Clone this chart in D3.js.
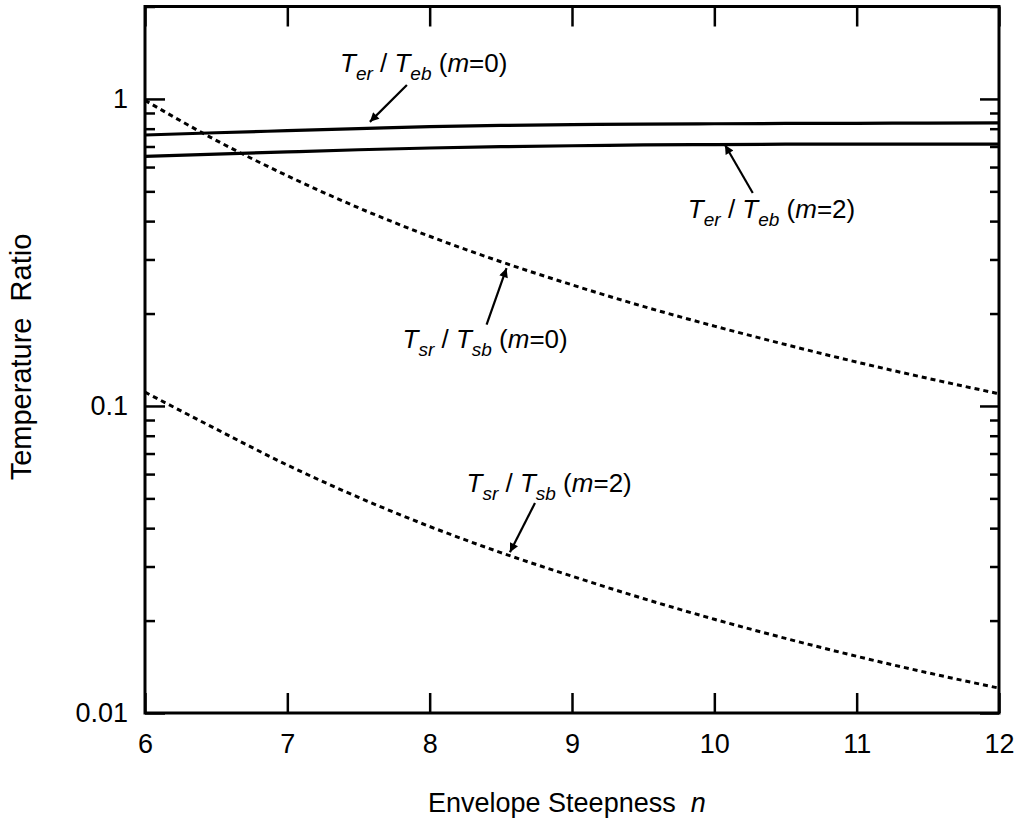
<!DOCTYPE html>
<html>
<head>
<meta charset="utf-8">
<script src="https://cdn.jsdelivr.net/npm/d3@7"></script>
<style>
  html, body { margin: 0; padding: 0; background: #fff; }
  svg { display: block; }
  text { font-family: "Liberation Sans", Arial, Helvetica, sans-serif; fill: #000; }
</style>
</head>
<body>
<svg id="chart" width="1022" height="824"></svg>
<script>
// ---- data ----
const nValues = [6, 6.5, 7, 7.5, 8, 8.5, 9, 9.5, 10, 10.5, 11, 11.5, 12];
const terTebM0 = [0.763, 0.776, 0.788, 0.800, 0.812, 0.820, 0.825, 0.828, 0.830, 0.832, 0.833, 0.834, 0.835];
const terTebM2 = [0.650, 0.661, 0.672, 0.683, 0.692, 0.699, 0.704, 0.708, 0.710, 0.712, 0.713, 0.713, 0.713];
const tsrTsbM0 = [0.989, 0.733, 0.562, 0.442, 0.357, 0.295, 0.248, 0.211, 0.182, 0.1585, 0.139, 0.123, 0.1096];
const tsrTsbM2 = [0.1109, 0.0841, 0.0642, 0.0504, 0.0405, 0.0333, 0.0279, 0.0236, 0.0202, 0.0175, 0.0153, 0.01352, 0.01205];

const xTicks = [6, 7, 8, 9, 10, 11, 12];
const yMajorTicks = [0.01, 0.1, 1];
const yMinorTicks = [0.02,0.03,0.04,0.05,0.06,0.07,0.08,0.09,0.2,0.3,0.4,0.5,0.6,0.7,0.8,0.9,2];
const yTickLabels = ["0.01", "0.1", "1"];

const xTitle = "Envelope Steepness";
const xTitleVar = "n";
const yTitle = "Temperature\u00a0\u00a0Ratio";

// annotations in data space: label anchor, arrow tail, arrow tip
const annNames = [
  {sub1: "er", sub2: "eb", m: "0"},
  {sub1: "er", sub2: "eb", m: "2"},
  {sub1: "sr", sub2: "sb", m: "0"},
  {sub1: "sr", sub2: "sb", m: "2"}
];
const annLabelAt = [[7.37, 1.224, "start"], [10.99, 0.409, "end"], [8.97, 0.1545, "end"], [9.42, 0.0525, "end"]];
const annTail = [[7.84, 1.11], [10.27, 0.494], [8.40, 0.184], [8.74, 0.0483]];
const annTip = [[7.58, 0.842], [10.075, 0.708], [8.54, 0.281], [8.564, 0.0334]];

// ---- layout ----
const L = 145, R = 999, T = 6.5, B = 713;
const svg = d3.select("#chart");
svg.append("rect").attr("width", 1022).attr("height", 824).attr("fill", "#fff");

const x = d3.scaleLinear().domain([6, 12]).range([L, R]);
const y = d3.scaleLog().domain([0.01, 2]).range([B, T]);

function styleAxis(g) {
  g.select(".domain").remove();
  g.selectAll(".tick line").attr("stroke", "#000").attr("stroke-width", 2.5);
  g.selectAll(".tick text").attr("font-size", 27).attr("fill", "#000")
    .attr("font-family", '"Liberation Sans", Arial, Helvetica, sans-serif');
}

// bottom
svg.append("g").attr("transform", `translate(0,${B})`)
  .call(d3.axisBottom(x).tickValues(xTicks).tickSize(-20).tickPadding(21).tickFormat(d3.format("d")))
  .call(styleAxis);
// top
svg.append("g").attr("transform", `translate(0,${T})`)
  .call(d3.axisTop(x).tickValues(xTicks).tickSize(-20).tickFormat(""))
  .call(styleAxis);
// left
svg.append("g").attr("transform", `translate(${L},0)`)
  .call(d3.axisLeft(y).tickValues(yMajorTicks).tickSize(-20).tickPadding(17)
    .tickFormat((d, i) => yTickLabels[i]))
  .call(styleAxis);
svg.append("g").attr("transform", `translate(${L},0)`)
  .call(d3.axisLeft(y).tickValues(yMinorTicks).tickSize(-10).tickFormat(""))
  .call(styleAxis);
// right
svg.append("g").attr("transform", `translate(${R},0)`)
  .call(d3.axisRight(y).tickValues(yMajorTicks).tickSize(-19).tickFormat(""))
  .call(styleAxis);
svg.append("g").attr("transform", `translate(${R},0)`)
  .call(d3.axisRight(y).tickValues(yMinorTicks).tickSize(-9).tickFormat(""))
  .call(styleAxis);

// frame
svg.append("rect").attr("x", L).attr("y", T).attr("width", R - L).attr("height", B - T)
  .attr("fill", "none").attr("stroke", "#000").attr("stroke-width", 3);

// series
const line = d3.line().x(d => x(d[0])).y(d => y(d[1])).curve(d3.curveMonotoneX);
const series = [
  {vals: terTebM0, dash: null, w: 3.2},
  {vals: terTebM2, dash: null, w: 3.2},
  {vals: tsrTsbM0, dash: "5,4", w: 3},
  {vals: tsrTsbM2, dash: "5,4", w: 3}
];
series.forEach(s => {
  svg.append("path")
    .datum(nValues.map((n, i) => [n, s.vals[i]]))
    .attr("d", line)
    .attr("fill", "none")
    .attr("stroke", "#000")
    .attr("stroke-width", s.w)
    .attr("stroke-dasharray", s.dash);
});

// arrow marker
svg.append("defs").append("marker")
  .attr("id", "arr").attr("viewBox", "0 0 10 10").attr("refX", 10).attr("refY", 5)
  .attr("markerUnits", "userSpaceOnUse").attr("markerWidth", 17).attr("markerHeight", 9)
  .attr("orient", "auto")
  .append("path").attr("d", "M0,0 L10,5 L0,10 Z").attr("fill", "#000");

annNames.forEach((a, i) => {
  const [tx, ty] = annTail[i], [hx, hy] = annTip[i];
  svg.append("line")
    .attr("x1", x(tx)).attr("y1", y(ty)).attr("x2", x(hx)).attr("y2", y(hy))
    .attr("stroke", "#000").attr("stroke-width", 2.2).attr("marker-end", "url(#arr)");
  const [lx, ly, anchor] = annLabelAt[i];
  const t = svg.append("text").attr("x", x(lx)).attr("y", y(ly))
    .attr("font-size", 26).attr("text-anchor", anchor);
  t.append("tspan").attr("font-style", "italic").text("T");
  t.append("tspan").attr("font-style", "italic").attr("font-size", 19).attr("dy", 8).text(a.sub1);
  t.append("tspan").attr("dy", -8).text("\u00a0/\u00a0");
  t.append("tspan").attr("font-style", "italic").text("T");
  t.append("tspan").attr("font-style", "italic").attr("font-size", 19).attr("dy", 8).text(a.sub2);
  t.append("tspan").attr("dy", -8).text("\u00a0(");
  t.append("tspan").attr("font-style", "italic").text("m");
  t.append("tspan").text("=" + a.m + ")");
});

// axis titles
const xt = svg.append("text").attr("x", 428).attr("y", 812).attr("font-size", 27);
xt.append("tspan").text(xTitle + "\u00a0\u00a0");
xt.append("tspan").attr("font-style", "italic").text(xTitleVar);

svg.append("text").attr("transform", "translate(31,357) rotate(-90)")
  .attr("text-anchor", "middle").attr("font-size", 29).text(yTitle);
</script>
</body>
</html>
